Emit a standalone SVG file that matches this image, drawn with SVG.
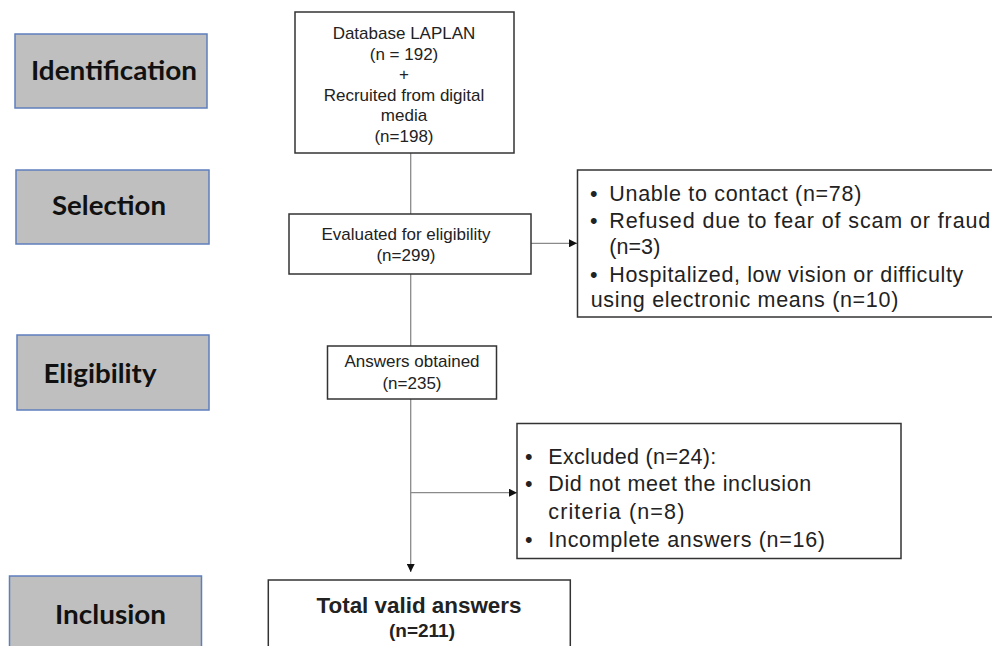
<svg xmlns="http://www.w3.org/2000/svg" width="992" height="646" viewBox="0 0 992 646">
<style>
.stage rect{fill:#bfbfbf;stroke:#5e7fbd;stroke-width:1.5}
.stage text{font-family:Lato,"Open Sans","DejaVu Sans",sans-serif;font-weight:700;font-size:27px;fill:#111}
.box rect{fill:#fff;stroke:#333;stroke-width:1.5}
.box text{font-family:"Liberation Sans",Arial,sans-serif;fill:#222}
.c{text-anchor:middle}
.s17{font-size:17px}
.s21{font-size:21.5px}
.b{font-weight:700}
.conn line{stroke:#8a8a8a;stroke-width:1.3;fill:none}
</style>
<defs>
<marker id="ah" viewBox="0 0 10 10" refX="10" refY="5" markerWidth="8" markerHeight="8" markerUnits="userSpaceOnUse" orient="auto">
<path d="M0,0 L10,5 L0,10 Z" fill="#111"/>
</marker>
</defs>
<rect width="992" height="646" fill="#fff"/>

<g id="stage-identification" class="stage">
<rect x="15" y="34" width="192" height="74"/>
<text x="31" y="79.5" textLength="166" lengthAdjust="spacingAndGlyphs">Identification</text>
</g>
<g id="stage-selection" class="stage">
<rect x="16" y="170" width="193" height="74"/>
<text x="52" y="214.5" textLength="114" lengthAdjust="spacingAndGlyphs">Selection</text>
</g>
<g id="stage-eligibility" class="stage">
<rect x="17" y="335" width="192" height="75"/>
<text x="43.5" y="382.5" textLength="113" lengthAdjust="spacingAndGlyphs">Eligibility</text>
</g>
<g id="stage-inclusion" class="stage">
<rect x="9.5" y="576" width="192" height="80"/>
<text x="55" y="623.5" textLength="111" lengthAdjust="spacingAndGlyphs">Inclusion</text>
</g>

<g id="connectors" class="conn">
<line x1="410.7" y1="153" x2="410.7" y2="214"/>
<line x1="410.7" y1="274" x2="410.7" y2="346"/>
<line x1="410.7" y1="399" x2="410.7" y2="572" marker-end="url(#ah)"/>
<line x1="530" y1="243.3" x2="577" y2="243.3" marker-end="url(#ah)"/>
<line x1="410.7" y1="492.7" x2="517" y2="492.7" marker-end="url(#ah)"/>
</g>

<g id="node-database" class="box">
<rect x="295" y="12" width="219" height="141"/>
<text class="c s17" x="404" y="38.5">Database LAPLAN</text>
<text class="c s17" x="404" y="59.5">(n = 192)</text>
<text class="c s17" x="404" y="80">+</text>
<text class="c s17" x="404" y="100.5">Recruited from digital</text>
<text class="c s17" x="404" y="121">media</text>
<text class="c s17" x="404" y="142">(n=198)</text>
</g>

<g id="node-evaluated" class="box">
<rect x="289" y="214" width="242" height="60"/>
<text class="c s17" x="406" y="240">Evaluated for eligibility</text>
<text class="c s17" x="406" y="261">(n=299)</text>
</g>

<g id="node-excluded1" class="box">
<rect x="577.5" y="170" width="430" height="147"/>
<text class="s21" x="590" y="200.5">•</text>
<text class="s21" x="609.3" y="200.5" textLength="252" lengthAdjust="spacing">Unable to contact (n=78)</text>
<text class="s21" x="590" y="227.5">•</text>
<text class="s21" x="609.3" y="227.5" textLength="381" lengthAdjust="spacing">Refused due to fear of scam or fraud</text>
<text class="s21" x="609.3" y="253.5" textLength="51" lengthAdjust="spacing">(n=3)</text>
<text class="s21" x="590" y="281.5">•</text>
<text class="s21" x="609.3" y="281.5" textLength="354" lengthAdjust="spacing">Hospitalized, low vision or difficulty</text>
<text class="s21" x="590.7" y="306.7" textLength="307.6" lengthAdjust="spacing">using electronic means (n=10)</text>
</g>

<g id="node-answers" class="box">
<rect x="327.5" y="346" width="169" height="53"/>
<text class="c s17" x="412" y="367">Answers obtained</text>
<text class="c s17" x="412" y="388.5">(n=235)</text>
</g>

<g id="node-excluded2" class="box">
<rect x="517" y="423.5" width="384" height="135"/>
<text class="s21" x="525" y="463.5">•</text>
<text class="s21" x="548.3" y="463.5" textLength="168" lengthAdjust="spacing">Excluded (n=24):</text>
<text class="s21" x="525" y="491">•</text>
<text class="s21" x="548.3" y="491" textLength="263" lengthAdjust="spacing">Did not meet the inclusion</text>
<text class="s21" x="548.3" y="519" textLength="136" lengthAdjust="spacing">criteria (n=8)</text>
<text class="s21" x="525" y="546.7">•</text>
<text class="s21" x="548.3" y="546.7" textLength="276.7" lengthAdjust="spacing">Incomplete answers (n=16)</text>
</g>

<g id="node-total" class="box">
<rect x="268.3" y="580" width="302" height="80"/>
<text class="c b" x="419" y="612.7" font-size="22px" textLength="205" lengthAdjust="spacingAndGlyphs">Total valid answers</text>
<text class="c b" x="422" y="636.7" font-size="19px">(n=211)</text>
</g>
</svg>
